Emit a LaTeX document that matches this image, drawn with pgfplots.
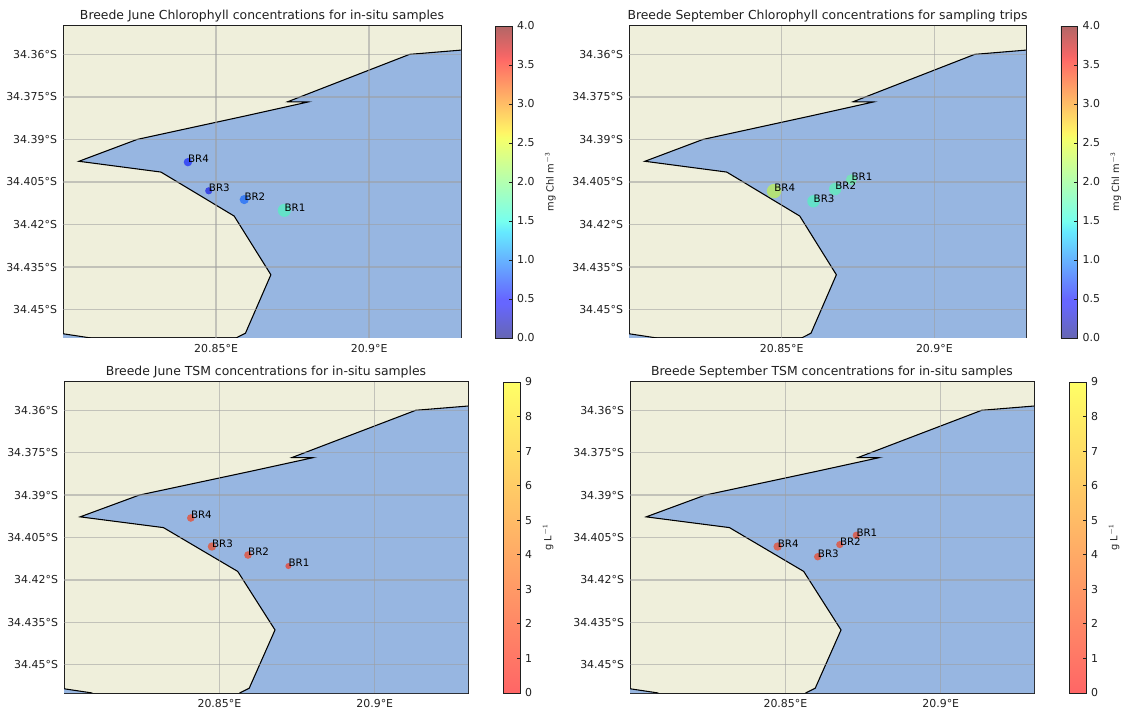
\documentclass[border=0pt]{standalone}
\usepackage{pgfplots}
\usepackage{pgfplotstable}
\usepackage{fontspec}
\setmainfont{DejaVu Sans}
\pgfplotsset{compat=1.18}
\definecolor{land}{rgb}{0.9375,0.9375,0.859}
\definecolor{water}{rgb}{0.592,0.714,0.882}
\definecolor{ink}{rgb}{0.12,0.12,0.12}
\definecolor{gridc}{rgb}{0.62,0.62,0.62}
\pgfplotsset{
 colormap={jetT}{rgb(0pt)=(0,0,.5); rgb(11pt)=(0,0,1); rgb(12.5pt)=(0,0,1); rgb(34pt)=(0,.86,1); rgb(37.5pt)=(.11,1,.89); rgb(64pt)=(.94,1,.03); rgb(66pt)=(1,.93,0); rgb(89pt)=(1,.03,0); rgb(91pt)=(.91,0,0); rgb(100pt)=(.5,0,0)},
 colormap={jetB}{rgb(0pt)=(.4,.4,.7); rgb(11pt)=(.4,.4,1); rgb(12.5pt)=(.4,.4,1); rgb(34pt)=(.4,.916,1); rgb(37.5pt)=(.466,1,.934); rgb(64pt)=(.964,1,.418); rgb(66pt)=(1,.958,.4); rgb(89pt)=(1,.418,.4); rgb(91pt)=(.946,.4,.4); rgb(100pt)=(.7,.4,.4)},
 colormap={autT}{rgb(0pt)=(1,0,0); rgb(1pt)=(1,1,0)},
 colormap={autB}{rgb(0pt)=(1,.4,.4); rgb(1pt)=(1,1,.4)},
 chl/.style={colormap name=jetT, point meta min=0, point meta max=4,
  colorbar style={colormap name=jetB, ytick={0,0.5,...,4},
   yticklabel style={/pgf/number format/.cd,fixed,fixed zerofill,precision=1,assume math mode=true},
   ylabel={mg Chl m$^{\mathsf{-3}}$}}},
 tsm/.style={colormap name=autT, point meta min=0, point meta max=9,
  colorbar style={colormap name=autB, ytick={0,1,...,9},
   yticklabel style={/pgf/number format/assume math mode=true},
   ylabel={g L$^{\mathsf{-1}}$}}},
 gl/.style={gridc, opacity=0.55, line width=1pt, forget plot},
}
% lon lat value radius(pt) name
\pgfplotstableread{
lon lat val r name
20.8723 -34.4150 1.70 4.9 BR1
20.8592 -34.4112 0.85 3.45 BR2
20.8476 -34.4081 0.35 2.7 BR3
20.8408 -34.3980 0.55 3.15 BR4
}\tabA
\pgfplotstableread{
lon lat val r name
20.8728 -34.4042 1.85 4.1 BR1
20.8675 -34.4075 1.75 4.65 BR2
20.8604 -34.4118 1.70 4.65 BR3
20.8475 -34.4082 2.35 5.4 BR4
}\tabB
\pgfplotstableread{
lon lat val r name
20.8722 -34.4151 1.2 2.25 BR1
20.8592 -34.4112 1.7 2.85 BR2
20.8476 -34.4082 1.9 3.15 BR3
20.8408 -34.3981 1.7 2.85 BR4
}\tabC
\pgfplotstableread{
lon lat val r name
20.8728 -34.4042 1.6 2.7 BR1
20.8675 -34.4075 1.7 2.7 BR2
20.8604 -34.4118 1.7 2.8 BR3
20.8475 -34.4082 1.8 3.15 BR4
}\tabD
\newcommand\panel[8]{%
 \pgfmathsetlengthmacro\myW{(#3-#1)*0.75pt}%
 \pgfmathsetlengthmacro\myH{(#4-#2)*0.75pt}%
 \pgfmathsetlengthmacro\myX{#1*0.75pt}%
 \pgfmathsetlengthmacro\myY{(710-#4)*0.75pt}%
 \pgfmathsetlengthmacro\myS{#5*0.75pt}%
 \begin{axis}[
  at={(\myX,\myY)}, anchor=south west, scale only axis, width=\myW, height=\myH,
  axis background/.style={fill=land},
  xmin=20.8, xmax=20.93, ymin=-34.46, ymax=-34.35,
  xtick={20.85,20.9}, xticklabels={20.85°E,20.9°E},
  ytick={-34.36,-34.375,-34.39,-34.405,-34.42,-34.435,-34.45},
  yticklabels={34.36°S,34.375°S,34.39°S,34.405°S,34.42°S,34.435°S,34.45°S},
  major tick length=0pt,
  tick label style={font=\fontsize{8.2}{9}\selectfont, text=ink},
  xticklabel style={yshift=-1.5pt}, yticklabel style={xshift=-1pt},
  axis line style={line width=0.75pt, ink},
  title={#6}, title style={font=\fontsize{9.3}{10}\selectfont, text=ink, yshift=-6.3pt},
  colorbar, colorbar shift/.style={xshift=\myS},
  colorbar style={width=12.7pt, major tick length=2.6pt,
   tick style={ink, line width=0.6pt},
   axis line style={line width=0.6pt, ink},
   ytick pos=right, yticklabel pos=right, ylabel near ticks,
   tick label style={font=\fontsize{8.2}{9}\selectfont, text=ink},
   ylabel style={font=\fontsize{7.4}{9}\selectfont, text=ink, yshift=-1pt}},
  #8]
  \addplot[fill=water, draw=none] coordinates {
   (20.93,-34.3585) (20.9132,-34.36) (20.8734,-34.3767) (20.8800,-34.3768)
   (20.86,-34.3816) (20.8242,-34.390) (20.8052,-34.3977) (20.832,-34.4015)
   (20.8559,-34.4170) (20.8679,-34.4377) (20.8596,-34.4583) (20.8565,-34.46)
   (20.93,-34.46)} --cycle;
  \addplot[fill=water, draw=none] coordinates {
   (20.8,-34.4585) (20.8091,-34.46) (20.8,-34.46)} --cycle;
  \addplot[black, line width=0.8pt] coordinates {
   (20.93,-34.3585) (20.9132,-34.36) (20.8734,-34.3767) (20.8800,-34.3768)
   (20.86,-34.3816) (20.8242,-34.390) (20.8052,-34.3977) (20.832,-34.4015)
   (20.8559,-34.4170) (20.8679,-34.4377) (20.8596,-34.4583) (20.8565,-34.46)};
  \addplot[black, line width=0.8pt] coordinates {
   (20.8,-34.4585) (20.8091,-34.46)};
  \addplot[gl] coordinates {(20.85,-34.35) (20.85,-34.46)};
  \addplot[gl] coordinates {(20.9,-34.35) (20.9,-34.46)};
  \addplot[gl] coordinates {(20.8,-34.36) (20.93,-34.36)};
  \addplot[gl] coordinates {(20.8,-34.375) (20.93,-34.375)};
  \addplot[gl] coordinates {(20.8,-34.39) (20.93,-34.39)};
  \addplot[gl] coordinates {(20.8,-34.405) (20.93,-34.405)};
  \addplot[gl] coordinates {(20.8,-34.42) (20.93,-34.42)};
  \addplot[gl] coordinates {(20.8,-34.435) (20.93,-34.435)};
  \addplot[gl] coordinates {(20.8,-34.45) (20.93,-34.45)};
  \addplot[scatter, only marks, mark=*, scatter src=explicit,
   visualization depends on={\thisrow{r}\as\markr},
   scatter/use mapped color={draw opacity=0, fill=mapped color, fill opacity=0.6},
   scatter/@pre marker code/.append style={/tikz/mark size=\markr}]
   table[x=lon,y=lat,meta=val] {#7};
  \addplot[only marks, mark=none, nodes near coords, point meta=explicit symbolic,
   nodes near coords style={anchor=base west, inner sep=0pt, yshift=-0.6pt, font=\fontsize{7.7}{9}\selectfont, text=black}]
   table[x=lon,y=lat,meta=name] {#7};
 \end{axis}}
\begin{document}
\begin{tikzpicture}
\useasboundingbox (0,0) rectangle (844.5pt,532.5pt);
\panel{63}{26}{461}{338}{34}{Breede June Chlorophyll concentrations for in-situ samples}{\tabA}{chl}
\panel{629}{26}{1026}{338}{29}{Breede September Chlorophyll concentrations for sampling trips}{\tabB}{chl}
\panel{64}{382}{468}{693}{35}{Breede June TSM concentrations for in-situ samples}{\tabC}{tsm}
\panel{630}{382}{1034}{693}{35}{Breede September TSM concentrations for in-situ samples}{\tabD}{tsm}
\end{tikzpicture}
\end{document}
